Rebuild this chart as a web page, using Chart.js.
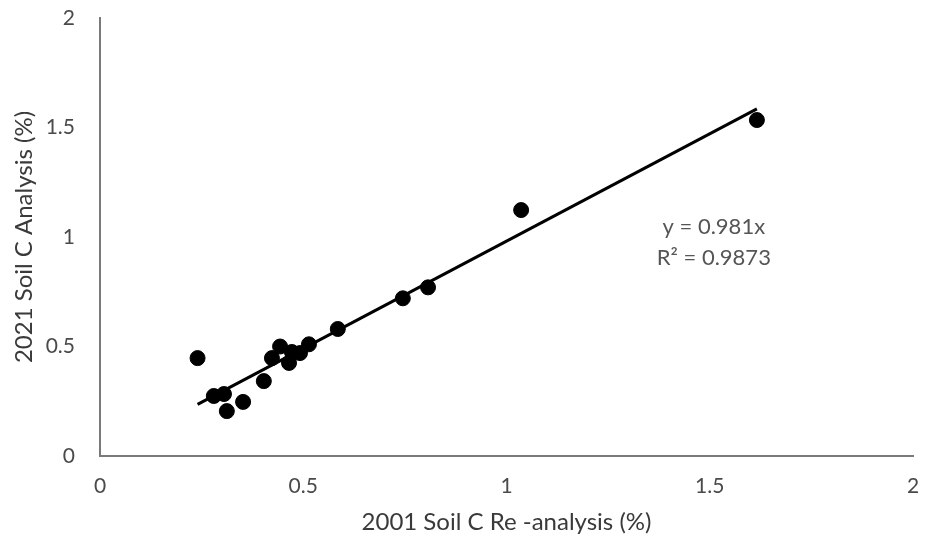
<!DOCTYPE html>
<html>
<head>
<meta charset="utf-8">
<script src="https://cdn.jsdelivr.net/npm/chart.js@4/dist/chart.umd.min.js"></script>
<style>
html,body{margin:0;padding:0;background:#fff;}
#wrap{width:926px;height:548px;position:relative;}
</style>
</head>
<body>
<div id="wrap"><canvas id="c" width="926" height="548"></canvas></div>
<script>
const soil2001 = [0.24, 0.28, 0.305, 0.312, 0.352, 0.403, 0.423, 0.443, 0.465, 0.472, 0.492, 0.514, 0.585, 0.745, 0.807, 1.036, 1.616];
const soil2021 = [0.447, 0.274, 0.283, 0.205, 0.247, 0.342, 0.447, 0.50, 0.425, 0.475, 0.47, 0.51, 0.58, 0.72, 0.77, 1.123, 1.534];
const trendSlope = 0.981;
const rSquared = 0.9873;
const xTicks = [0, 0.5, 1, 1.5, 2];
const yTicks = [0, 0.5, 1, 1.5, 2];

const points = soil2001.map((x, i) => ({x: x, y: soil2021[i]}));
const xMin = Math.min(...soil2001), xMax = Math.max(...soil2001);
const trend = [{x: xMin, y: trendSlope * xMin}, {x: xMax, y: trendSlope * xMax}];

const FONT = 'Lato, "Open Sans", sans-serif';

const labelPlugin = {
  id: 'eqLabel',
  afterDraw(chart) {
    const ctx = chart.ctx;
    const xs = chart.scales.x, ys = chart.scales.y;
    const cx = xs.getPixelForValue(1.51);
    const y1 = ys.getPixelForValue(1.045);
    const y2 = ys.getPixelForValue(0.905);
    ctx.save();
    ctx.fillStyle = '#555555';
    ctx.font = '22px ' + FONT;
    ctx.textAlign = 'center';
    ctx.textBaseline = 'middle';
    ctx.fillText('y = ' + trendSlope + 'x', cx, y1);
    ctx.fillText('R² = ' + rSquared, cx, y2);
    ctx.restore();
  }
};

new Chart(document.getElementById('c'), {
  type: 'scatter',
  data: {
    datasets: [
      {
        label: 'Samples',
        data: points,
        backgroundColor: '#000',
        borderColor: '#000',
        pointRadius: 7.5,
        pointHoverRadius: 7.5,
        order: 1
      },
      {
        type: 'line',
        label: 'Trend',
        data: trend,
        borderColor: '#000',
        borderWidth: 3,
        pointRadius: 0,
        fill: false,
        order: 2
      }
    ]
  },
  options: {
    responsive: false,
    animation: false,
    events: [],
    layout: {padding: {top: 18, right: 13, left: 0, bottom: 0}},
    plugins: {legend: {display: false}, tooltip: {enabled: false}},
    scales: {
      x: {
        type: 'linear',
        min: 0, max: 2,
        afterBuildTicks(s) { s.ticks = xTicks.map(v => ({value: v})); },
        afterFit(s) { s.height = 92; s.paddingLeft = 0; s.paddingRight = 0; },
        grid: {display: false, drawTicks: false},
        border: {display: true, color: '#7a7a7a', width: 2},
        ticks: {color: '#4a4a4a', font: {size: 21, family: FONT}, padding: 18, maxRotation: 0,
          callback: v => String(v)},
        title: {display: true, text: '2001 Soil C Re -analysis (%)', color: '#3a3a3a',
          font: {size: 24, family: FONT}, padding: {top: 4, bottom: 11}}
      },
      y: {
        type: 'linear',
        min: 0, max: 2,
        afterBuildTicks(s) { s.ticks = yTicks.map(v => ({value: v})); },
        afterFit(s) { s.width = 100; s.paddingTop = 0; s.paddingBottom = 0; },
        grid: {display: false, drawTicks: false},
        border: {display: true, color: '#7a7a7a', width: 2},
        ticks: {color: '#4a4a4a', font: {size: 21, family: FONT}, padding: 25,
          callback: v => String(v)},
        title: {display: true, text: '2021 Soil C Analysis (%)', color: '#3a3a3a',
          font: {size: 24, family: FONT}, padding: {top: 10, bottom: 4}}
      }
    }
  },
  plugins: [labelPlugin]
});
</script>
</body>
</html>
